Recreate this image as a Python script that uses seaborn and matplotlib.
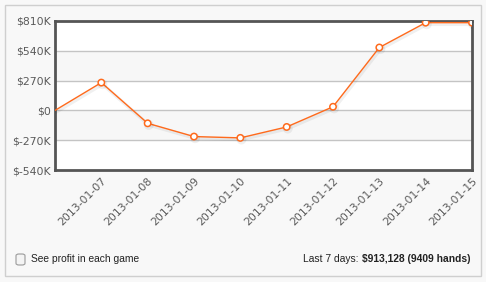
import matplotlib
matplotlib.use("Agg")
import matplotlib.pyplot as plt
import matplotlib.patheffects as pe
from matplotlib.patches import Rectangle, FancyBboxPatch
import seaborn as sns
import pandas as pd

dates = ["2013-01-06", "2013-01-07", "2013-01-08", "2013-01-09", "2013-01-10",
         "2013-01-11", "2013-01-12", "2013-01-13", "2013-01-14", "2013-01-15"]
profit = [0, 252000, -117000, -237000, -249000, -150000, 33000, 570000, 795000, 795000]
y_ticks = [-540000, -270000, 0, 270000, 540000, 810000]
y_labels = ["$-540K", "$-270K", "$0", "$270K", "$540K", "$810K"]

df = pd.DataFrame({"date": dates, "profit": profit})

sns.set_style("white")
plt.rcParams["font.family"] = ["DejaVu Sans"]

W, H = 486, 282
fig = plt.figure(figsize=(W / 100, H / 100), dpi=100)
fig.patch.set_facecolor("#f8f8f8")

# outer panel border
fig.patches.append(Rectangle((4.5 / W, 1 - 275.5 / H), 476 / W, 270.5 / H,
                             transform=fig.transFigure, fill=False,
                             edgecolor="#cfcfcf", linewidth=1))

ax = fig.add_axes([55 / W, 1 - 170 / H, 417 / W, 149 / H])
ax.set_facecolor("white")

# alternating bands
for i in range(len(y_ticks) - 1):
    if i % 2 == 0:
        continue
    ax.axhspan(y_ticks[i], y_ticks[i + 1], color="#f7f7f7", zorder=0, lw=0)
for t in y_ticks[1:-1]:
    ax.axhline(t, color="#c4c4c4", lw=1, zorder=1)

sns.lineplot(data=df, x="date", y="profit", ax=ax, color="#ff6a1c", lw=1.0,
             marker="o", markersize=4.6, markerfacecolor="white",
             markeredgecolor="#ff6a1c", markeredgewidth=1.1,
             markevery=list(range(1, len(dates))), zorder=3,
             path_effects=[pe.SimpleLineShadow(offset=(0.8, -1.2), shadow_color="#000000", alpha=0.06, linewidth=2.5), pe.Normal()])

ax.set_xlim(0, len(dates) - 1)
ax.set_ylim(y_ticks[0], y_ticks[-1])
ax.set_yticks(y_ticks)
ax.set_yticklabels(y_labels)
ax.set_xticks(range(1, len(dates)))
ax.set_xticklabels(dates[1:], rotation=45, ha="right", rotation_mode="anchor")
ax.tick_params(axis="both", length=0, labelsize=7.8, labelcolor="#5a5a5a")
ax.tick_params(axis="y", pad=3)
ax.tick_params(axis="x", pad=4)
ax.set_xlabel("")
ax.set_ylabel("")
for s in ax.spines.values():
    s.set_visible(True)
    s.set_color("#555555")
    s.set_linewidth(2)

# checkbox + footer texts
foot = dict(fontsize=7.4, color="#222222", va="center", family=["Liberation Sans", "DejaVu Sans"])
fig.patches.append(FancyBboxPatch((16 / W, 1 - 265 / H), 9 / W, 11 / H,
                                  boxstyle="round,pad=0,rounding_size=0.006",
                                  transform=fig.transFigure, facecolor="#f4f4f4",
                                  edgecolor="#9a9a9a", linewidth=0.8))
fig.text(31 / W, 1 - 259 / H, "See profit in each game", ha="left", **foot)
bold = fig.text(470 / W, 1 - 259 / H, "$913,128 (9409 hands)", ha="right",
                fontweight="bold", **foot)
fig.canvas.draw()
bb = bold.get_window_extent()
fig.text((bb.x0 - 3) / W, 1 - 259 / H, "Last 7 days:", ha="right", **foot)

fig.savefig("out.png", dpi=100, facecolor=fig.get_facecolor())
